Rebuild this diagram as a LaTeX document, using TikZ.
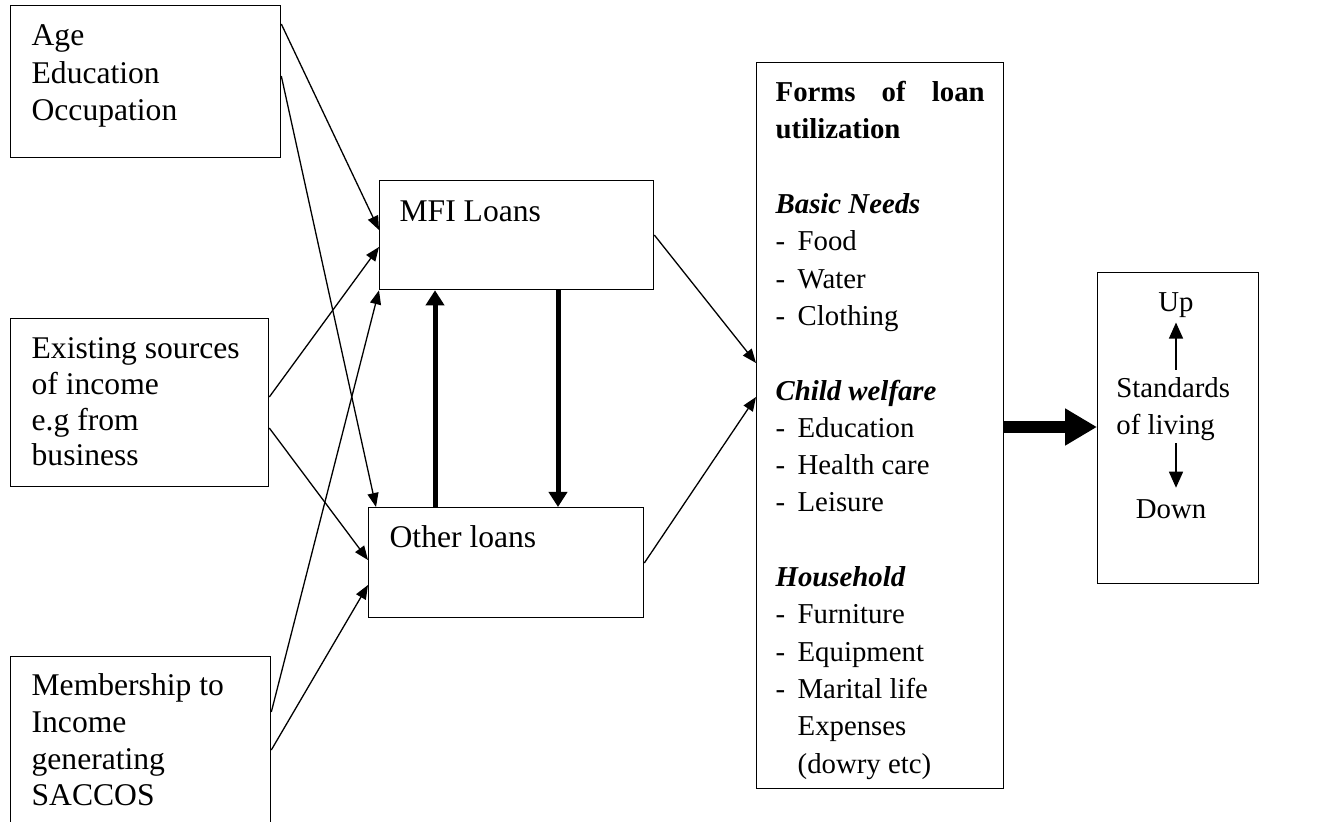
\documentclass[tikz,border=0pt]{standalone}
\usepackage{fontspec}
\setmainfont{Liberation Serif}
\usepackage{tikz}
\usetikzlibrary{arrows.meta, calc, positioning}
\newcommand{\boxtext}[4][20pt]{\parbox[c][#2][t]{#3}{\rule{0pt}{#1}#4}}
\newcommand{\itm}[1]{\makebox[11pt][l]{-}#1}

\begin{document}
\begin{tikzpicture}[x=0.5pt, y=-0.5pt,
    font=\fontsize{15.8}{18.75}\selectfont,
    frame/.style={draw, line width=0.65pt, anchor=north west, inner ysep=0pt, inner xsep=10.5pt},
    small/.style={font=\fontsize{14.4}{18.65}\selectfont},
    link/.style={line width=0.65pt, -{Triangle[length=7pt, width=5.5pt]}},
    boldlink/.style={line width=2.5pt, -{Triangle[length=7.5pt, width=9pt]}},
    biglink/.style={line width=6pt, -{Triangle[length=16pt, width=17.5pt]}},
    updown/.style={line width=0.65pt, -{Triangle[length=8pt, width=7pt]}}]
  \useasboundingbox (0,0) rectangle (1321,822);

  % background factors
  \node[frame] (agebox) at (10,5) {\boxtext{76pt}{114pt}{Age\\Education\\Occupation}};
  \node[frame, font=\fontsize{15.8}{17.85}\selectfont] (srcbox) at (10,318) {\boxtext{84pt}{108pt}{Existing sources\\of income\\e.g from\\business}};
  \node[frame, font=\fontsize{15.8}{18.35}\selectfont] (saccobox) at (10,656) {\boxtext[19.5pt]{92pt}{109pt}{Membership to\\Income\\generating\\SACCOS}};

  % loans
  \node[frame, inner xsep=10pt] (mfi) at (379,180) {\boxtext[20.5pt]{54.5pt}{117pt}{MFI Loans}};
  \node[frame] (other) at (368,507) {\boxtext{55pt}{116.5pt}{Other loans}};

  % uses of the loans
  \node[frame, small, inner xsep=9.5pt] (forms) at (756,62) {\boxtext[19.5pt]{363pt}{104.5pt}{%
    \textbf{Forms of loan utilization}\\[18.65pt]
    \textbf{\textit{Basic Needs}}\\
    \itm{Food}\\ \itm{Water}\\ \itm{Clothing}\\[18.65pt]
    \textbf{\textit{Child welfare}}\\
    \itm{Education}\\ \itm{Health care}\\ \itm{Leisure}\\[18.65pt]
    \textbf{\textit{Household}}\\
    \itm{Furniture}\\ \itm{Equipment}\\ \itm{Marital life}\\
    \hspace*{11pt}Expenses\\ \hspace*{11pt}(dowry etc)}};

  % outcome
  \node[draw, line width=0.65pt, anchor=north west, minimum width=80.5pt, minimum height=155.5pt] (stdbox) at (1097,272) {};
  \node[small, anchor=base, inner sep=2pt] (up) at (1176,312) {Up};
  \node[small, anchor=west, inner sep=0pt, align=left] (stdliv) at (1116,409) {Standards\\of living};
  \node[small, anchor=base, inner sep=2pt] (down) at (1171,519) {Down};
  \draw[updown] ($(stdliv.north -| up.south)+(0,-7)$) -- (up.south);
  \draw[updown] ($(stdliv.south -| up.south)+(0,2)$) -- ($(down.north -| up.south)+(0,-8)$);

  % links into the loans
  \draw[link] ($(agebox.north east)+(0,19)$) -- ($(mfi.north west)+(0,50)$);
  \draw[link] ($(agebox.north east)+(0,71)$) -- ($(other.north west)+(8,0)$);
  \draw[link] ($(srcbox.north east)+(0,79)$) -- ($(mfi.north west)+(0,67)$);
  \draw[link] ($(srcbox.north east)+(0,110)$) -- ($(other.north west)+(0,53)$);
  \draw[link] ($(saccobox.north east)+(0,56)$) -- (mfi.south west);
  \draw[link] ($(saccobox.north east)+(0,94)$) -- ($(other.north west)+(0,78)$);
  \draw[boldlink] ($(other.north west)+(67,0)$) -- ($(mfi.south west)+(56,0)$);
  \draw[boldlink] ($(mfi.south west)+(179,0)$) -- ($(other.north west)+(190,0)$);

  % links out
  \draw[link] ($(mfi.north east)+(0,55)$) -- ($(forms.north west)+(0,301)$);
  \draw[link] ($(other.north east)+(0,56)$) -- ($(forms.north west)+(0,335)$);
  \draw[biglink] ($(forms.north east)+(0,365)$) -- ($(stdbox.north west)+(0,155)$);
\end{tikzpicture}
\end{document}
